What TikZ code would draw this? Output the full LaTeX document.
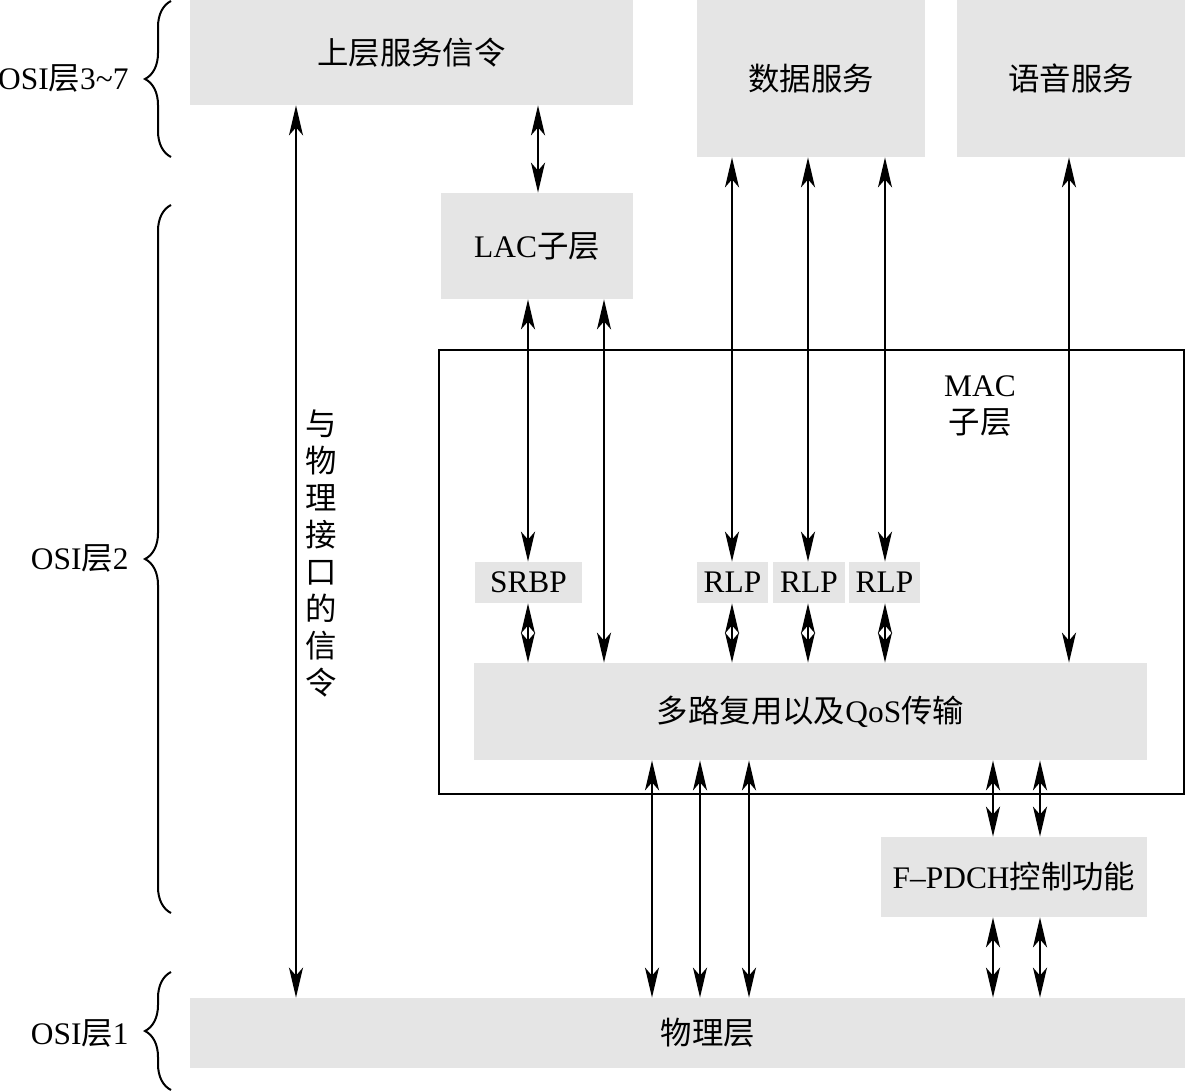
\documentclass[tikz,border=0pt]{standalone}
\usepackage{fontspec}
\setmainfont{Liberation Serif}
\newfontfamily\cjk{Noto Sans CJK SC}
\newcommand{\zh}[1]{{\cjk #1}}
\usetikzlibrary{arrows.meta,decorations.pathreplacing}
\begin{document}
\begin{tikzpicture}[x=0.5pt,y=-0.5pt,
  box/.style={fill=gray!20, draw=none, inner sep=0pt, font=\fontsize{15.7pt}{18pt}\selectfont},
  arr/.style={line width=1pt, {Stealth[length=15pt,width=7pt,inset=4pt]}-{Stealth[length=15pt,width=7pt,inset=4pt]}},
  lbl/.style={font=\fontsize{15.7pt}{18.5pt}\selectfont, inner sep=0pt},
  brc/.style={decorate, decoration={brace, amplitude=13pt}, line width=1pt}]
\useasboundingbox (0,0) rectangle (1185,1092);

% MAC frame
\node[draw, line width=0.8pt, minimum width=372.5pt, minimum height=222pt, inner sep=0pt] (mac) at (811.5,572) {};
\node[lbl, align=center] (maclbl) at (980,406) {MAC\\\zh{子层}};

% boxes
\node[box, minimum width=221.5pt, minimum height=52.5pt] (up) at (411.5,52.5) {\zh{上层服务信令}};
\node[box, minimum width=114pt, minimum height=78.5pt] (data) at (811,78.5) {\zh{数据服务}};
\node[box, minimum width=114pt, minimum height=78.5pt] (voice) at (1071,78.5) {\zh{语音服务}};
\node[box, minimum width=96pt, minimum height=53pt] (lac) at (537,246) {LAC\zh{子层}};
\node[box, minimum width=53.5pt, minimum height=20.5pt] (srbp) at (528.5,582.5) {SRBP};
\node[box, minimum width=35.5pt, minimum height=20.5pt] (rlpa) at (732.5,582.5) {RLP};
\node[box, minimum width=36pt, minimum height=20.5pt] (rlpb) at (809,582.5) {RLP};
\node[box, minimum width=35.5pt, minimum height=20.5pt] (rlpc) at (884.5,582.5) {RLP};
\node[box, minimum width=336.5pt, minimum height=48.5pt] (mux) at (810.5,711.5) {\zh{多路复用以及}QoS\zh{传输}};
\node[box, minimum width=133pt, minimum height=40pt] (fp) at (1014,877) {F\textendash PDCH\zh{控制功能}};
\node[box, minimum width=497.5pt, minimum height=35pt] (phy) at (687.5,1033) {};
\node[lbl] (phylbl) at (708,1033) {\zh{物理层}};

% vertical label
\node[lbl, align=center] (sig) at (321,553) {\zh{与}\\\zh{物}\\\zh{理}\\\zh{接}\\\zh{口}\\\zh{的}\\\zh{信}\\\zh{令}};

% OSI labels and braces
\node[lbl, anchor=east] (l37) at (129,78) {OSI\zh{层}3\textasciitilde7};
\node[lbl, anchor=east] (l2) at (129,558) {OSI\zh{层}2};
\node[lbl, anchor=east] (l1) at (129,1033) {OSI\zh{层}1};
\coordinate (b1a) at (171,157); \coordinate (b1b) at (171,1);
\coordinate (b2a) at (171,913); \coordinate (b2b) at (171,205);
\coordinate (b3a) at (171,1090); \coordinate (b3b) at (171,972);
\draw[brc] (b1a) -- (b1b);
\draw[brc] (b2a) -- (b2b);
\draw[brc] (b3a) -- (b3b);

% column coordinates
\foreach \c in {296,538,528,604,732,808,885,1069,652,700,749,993,1040}
  \coordinate (c\c) at (\c,0);

% connectors
\draw[arr] (c296 |- up.south) -- (c296 |- phy.north);
\draw[arr] (c538 |- up.south) -- (c538 |- lac.north);
\draw[arr] (c528 |- lac.south) -- (c528 |- srbp.north);
\draw[arr] (c604 |- lac.south) -- (c604 |- mux.north);
\draw[arr] (c732 |- data.south) -- (c732 |- rlpa.north);
\draw[arr] (c808 |- data.south) -- (c808 |- rlpb.north);
\draw[arr] (c885 |- data.south) -- (c885 |- rlpc.north);
\draw[arr] (c1069 |- voice.south) -- (c1069 |- mux.north);
\draw[arr] (c528 |- srbp.south) -- (c528 |- mux.north);
\draw[arr] (c732 |- rlpa.south) -- (c732 |- mux.north);
\draw[arr] (c808 |- rlpb.south) -- (c808 |- mux.north);
\draw[arr] (c885 |- rlpc.south) -- (c885 |- mux.north);
\draw[arr] (c652 |- mux.south) -- (c652 |- phy.north);
\draw[arr] (c700 |- mux.south) -- (c700 |- phy.north);
\draw[arr] (c749 |- mux.south) -- (c749 |- phy.north);
\draw[arr] (c993 |- mux.south) -- (c993 |- fp.north);
\draw[arr] (c1040 |- mux.south) -- (c1040 |- fp.north);
\draw[arr] (c993 |- fp.south) -- (c993 |- phy.north);
\draw[arr] (c1040 |- fp.south) -- (c1040 |- phy.north);
\end{tikzpicture}
\end{document}
